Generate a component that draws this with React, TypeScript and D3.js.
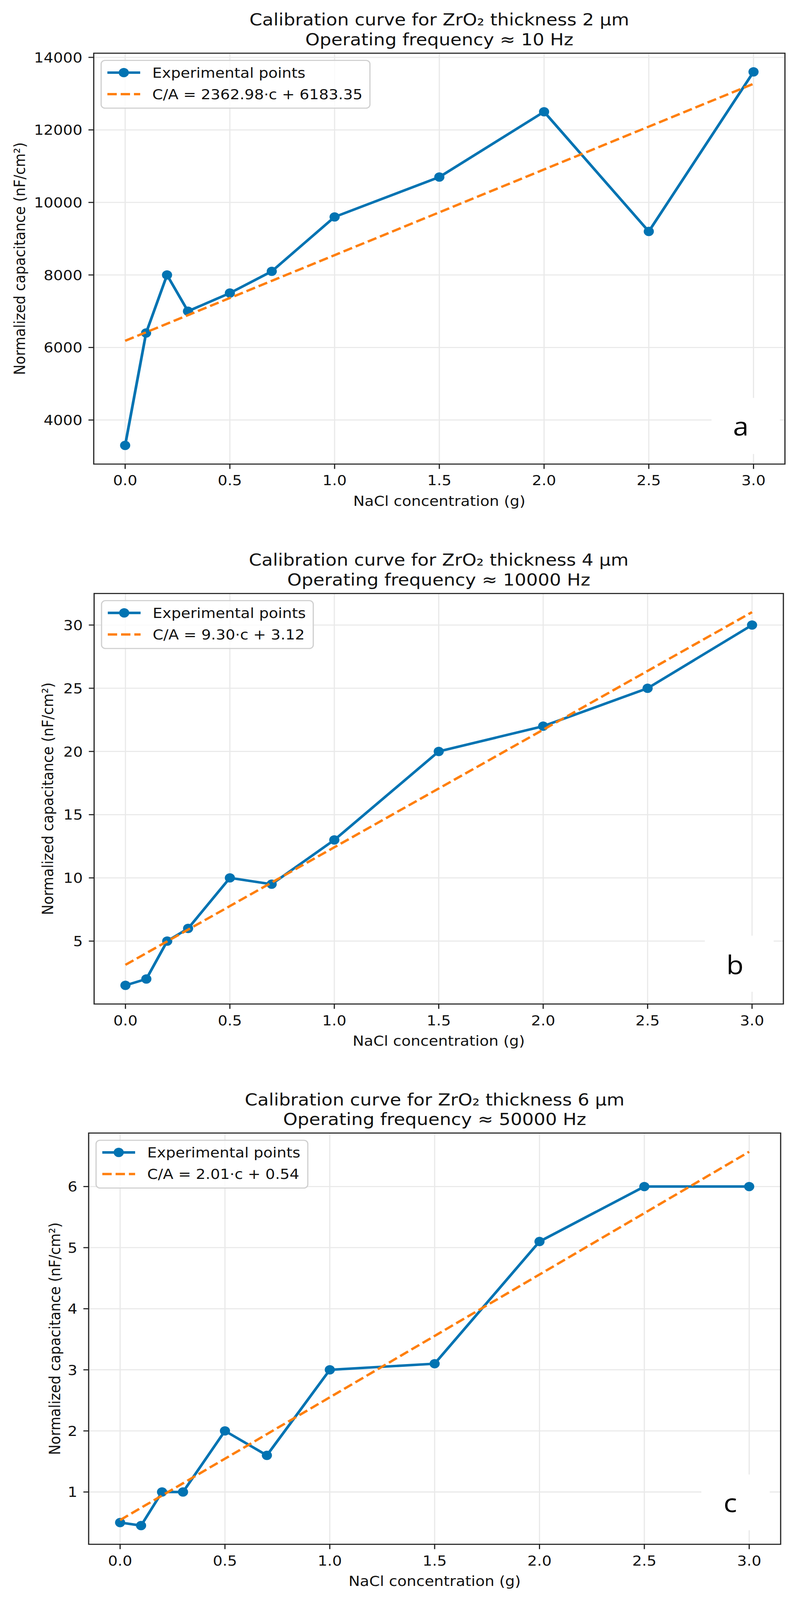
import React, { useEffect, useRef } from 'react';
import * as d3 from 'd3';

// NaCl concentration (g), shared by all three panels
const concentrations = [0, 0.1, 0.2, 0.3, 0.5, 0.7, 1.0, 1.5, 2.0, 2.5, 3.0];

// normalized capacitance (nF/cm²)
const capacitanceA = [3300, 6400, 8000, 7000, 7500, 8100, 9600, 10700, 12500, 9200, 13600];
const capacitanceB = [1.5, 2, 5, 6, 10, 9.5, 13, 20, 22, 25, 30];
const capacitanceC = [0.5, 0.45, 1.0, 1.0, 2.0, 1.6, 3.0, 3.1, 5.1, 6.0, 6.0];

// linear fit C/A = slope·c + intercept
const fitSlopes = [2362.98, 9.3, 2.01];
const fitIntercepts = [6183.35, 3.12, 0.54];
const fitLabels = ['C/A = 2362.98·c + 6183.35', 'C/A = 9.30·c + 3.12', 'C/A = 2.01·c + 0.54'];

const thicknesses = ['2', '4', '6'];
const frequencies = ['10', '10000', '50000'];
const panelLetters = ['a', 'b', 'c'];

const xTicks = [0, 0.5, 1.0, 1.5, 2.0, 2.5, 3.0];
const yTicksA = [4000, 6000, 8000, 10000, 12000, 14000];
const yTicksB = [5, 10, 15, 20, 25, 30];
const yTicksC = [1, 2, 3, 4, 5, 6];

const seriesList = [capacitanceA, capacitanceB, capacitanceC];
const yTickList = [yTicksA, yTicksB, yTicksC];

// page geometry of each panel (pixels, in the 2046x4451 drawing space)
const frames = [
  { left: 240, right: 2010, top: 148, bottom: 1291, ylabelX: 64, box: [1822, 1107, 175, 156], letter: [1897, 1212] },
  { left: 241, right: 2006, top: 1651, bottom: 2793, ylabelX: 136, box: [1805, 2603, 176, 156], letter: [1882, 2710] },
  { left: 227, right: 1999, top: 3152, bottom: 4296, ylabelX: 154, box: [1796, 4102, 175, 155], letter: [1870, 4207] },
];

const W = 2046;
const H = 4451;

const BLUE = '#0173b2';
const ORANGE = '#ff7f0e';
const FONT = '"DejaVu Sans", sans-serif';
const FS = 39;
const TITLE_FS = 46.8;

export default function App() {
  const svgRef = useRef<SVGSVGElement>(null);
  // the viewport is shorter than the drawing, so fit the drawing into it
  const shownH = Math.min(H, typeof window !== 'undefined' ? window.innerHeight : H);

  useEffect(() => {
    if (!svgRef.current) return;
    const svg = d3.select(svgRef.current);
    svg.selectAll('*').remove();
    svg.append('rect').attr('width', W).attr('height', H).attr('fill', '#fff');

    frames.forEach((f, i) => {
      const values = seriesList[i];
      const fitValues = concentrations.map(c => fitSlopes[i] * c + fitIntercepts[i]);

      // matplotlib-style autoscale: 5% margins around data + fit
      const lo = Math.min(d3.min(values)!, d3.min(fitValues)!);
      const hi = Math.max(d3.max(values)!, d3.max(fitValues)!);
      const m = (hi - lo) * 0.05;

      const x = d3.scaleLinear().domain([-0.15, 3.15]).range([f.left, f.right]);
      const y = d3.scaleLinear().domain([lo - m, hi + m]).range([f.bottom, f.top]);

      const g = svg.append('g').attr('font-family', FONT);

      // grid
      g.selectAll('line.vg')
        .data(xTicks)
        .enter()
        .append('line')
        .attr('x1', d => x(d)).attr('x2', d => x(d))
        .attr('y1', f.top).attr('y2', f.bottom)
        .attr('stroke', '#e9e9e9').attr('stroke-width', 3);
      g.selectAll('line.hg')
        .data(yTickList[i])
        .enter()
        .append('line')
        .attr('x1', f.left).attr('x2', f.right)
        .attr('y1', d => y(d)).attr('y2', d => y(d))
        .attr('stroke', '#e9e9e9').attr('stroke-width', 3);

      // white patch behind the panel letter
      g.append('rect')
        .attr('x', f.box[0]).attr('y', f.box[1])
        .attr('width', f.box[2]).attr('height', f.box[3])
        .attr('fill', '#fff');

      // experimental line + markers
      const line = d3.line<number>().x((_, k) => x(concentrations[k])).y(d => y(d));
      g.append('path')
        .attr('d', line(values)!)
        .attr('fill', 'none')
        .attr('stroke', BLUE)
        .attr('stroke-width', 7)
        .attr('stroke-linejoin', 'round');
      g.selectAll('circle.pt')
        .data(values)
        .enter()
        .append('circle')
        .attr('cx', (_, k) => x(concentrations[k]))
        .attr('cy', d => y(d))
        .attr('r', 13)
        .attr('fill', BLUE);

      // fit line
      g.append('path')
        .attr('d', line(fitValues)!)
        .attr('fill', 'none')
        .attr('stroke', ORANGE)
        .attr('stroke-width', 6.5)
        .attr('stroke-dasharray', '24 10');

      // spines
      g.append('rect')
        .attr('x', f.left).attr('y', f.top)
        .attr('width', f.right - f.left).attr('height', f.bottom - f.top)
        .attr('fill', 'none').attr('stroke', '#222').attr('stroke-width', 3);

      // x ticks
      const fmt = d3.format('.1f');
      xTicks.forEach(t => {
        g.append('line')
          .attr('x1', x(t)).attr('x2', x(t))
          .attr('y1', f.bottom).attr('y2', f.bottom + 13.5)
          .attr('stroke', '#222').attr('stroke-width', 3);
        g.append('text')
          .attr('x', x(t)).attr('y', f.bottom + 59)
          .attr('text-anchor', 'middle')
          .attr('font-size', FS)
          .attr('fill', '#111')
          .text(fmt(t));
      });

      // y ticks
      yTickList[i].forEach(t => {
        g.append('line')
          .attr('x1', f.left - 13.5).attr('x2', f.left)
          .attr('y1', y(t)).attr('y2', y(t))
          .attr('stroke', '#222').attr('stroke-width', 3);
        g.append('text')
          .attr('x', f.left - 29).attr('y', y(t) + 14)
          .attr('text-anchor', 'end')
          .attr('font-size', FS)
          .attr('fill', '#111')
          .text(String(t));
      });

      // axis labels
      g.append('text')
        .attr('x', (f.left + f.right) / 2).attr('y', f.bottom + 116)
        .attr('text-anchor', 'middle')
        .attr('font-size', FS)
        .attr('fill', '#111')
        .text('NaCl concentration (g)');
      g.append('text')
        .attr('transform', `translate(${f.ylabelX},${(f.top + f.bottom) / 2}) rotate(-90)`)
        .attr('text-anchor', 'middle')
        .attr('font-size', FS)
        .attr('fill', '#111')
        .text('Normalized capacitance (nF/cm²)');

      // title
      const cx = (f.left + f.right) / 2;
      g.append('text')
        .attr('x', cx).attr('y', f.top - 77)
        .attr('text-anchor', 'middle')
        .attr('font-size', TITLE_FS)
        .attr('fill', '#111')
        .text(`Calibration curve for ZrO₂ thickness ${thicknesses[i]} µm`);
      g.append('text')
        .attr('x', cx).attr('y', f.top - 22)
        .attr('text-anchor', 'middle')
        .attr('font-size', TITLE_FS)
        .attr('fill', '#111')
        .text(`Operating frequency ≈ ${frequencies[i]} Hz`);

      // legend
      const lg = g.append('g').attr('transform', `translate(${f.left + 19},${f.top + 20})`);
      const frame = lg.append('rect')
        .attr('height', 133)
        .attr('rx', 10)
        .attr('fill', '#fff').attr('fill-opacity', 0.8)
        .attr('stroke', '#cfcfcf').attr('stroke-width', 3);
      lg.append('line')
        .attr('x1', 16).attr('x2', 100).attr('y1', 34).attr('y2', 34)
        .attr('stroke', BLUE).attr('stroke-width', 7);
      lg.append('circle').attr('cx', 58).attr('cy', 34).attr('r', 13).attr('fill', BLUE);
      lg.append('line')
        .attr('x1', 16).attr('x2', 100).attr('y1', 94).attr('y2', 94)
        .attr('stroke', ORANGE).attr('stroke-width', 6.5)
        .attr('stroke-dasharray', '24 10');
      const t1 = lg.append('text').attr('x', 131).attr('y', 48)
        .attr('font-size', FS).attr('fill', '#111').text('Experimental points');
      const t2 = lg.append('text').attr('x', 131).attr('y', 108)
        .attr('font-size', FS).attr('fill', '#111').text(fitLabels[i]);
      const w = Math.max(
        (t1.node() as SVGTextElement).getComputedTextLength(),
        (t2.node() as SVGTextElement).getComputedTextLength()
      );
      frame.attr('width', 131 + w + 19);

      // panel letter
      g.append('text')
        .attr('x', f.letter[0]).attr('y', f.letter[1])
        .attr('text-anchor', 'middle')
        .attr('font-family', '"Open Sans", sans-serif')
        .attr('font-size', 72)
        .attr('fill', '#000')
        .text(panelLetters[i]);
    });
  }, []);

  return (
    <svg
      ref={svgRef}
      width={W}
      height={shownH}
      viewBox={`0 0 ${W} ${H}`}
      preserveAspectRatio="none"
      style={{ position: 'absolute', left: 0, top: 0, display: 'block' }}
    />
  );
}
